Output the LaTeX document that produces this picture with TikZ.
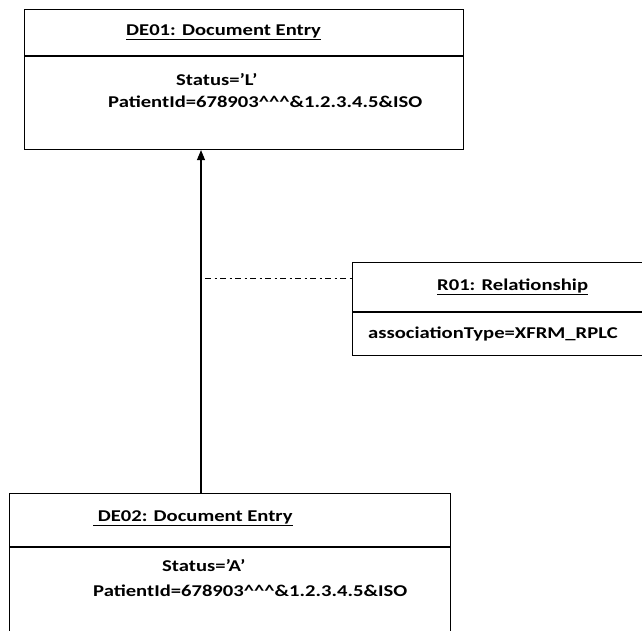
\documentclass[tikz,border=0pt]{standalone}
\usepackage{fontspec}
\setmainfont{Carlito}
\newfontfamily\boxfont[FakeStretch=1.25]{Carlito}
\usetikzlibrary{positioning,arrows.meta}
\tikzset{
  entry/.style={draw, line width=1.1pt, inner sep=0pt, anchor=north west},
  txt/.style={font=\boxfont\fontsize{16.5}{19}\selectfont\bfseries, inner sep=0pt, anchor=west},
  divider/.style={line width=1.1pt},
  link/.style={line width=0.9pt, dash pattern=on 6pt off 3.5pt on 2pt off 3.5pt}
}

\begin{document}
\begin{tikzpicture}[x=1pt, y=-1pt]
\useasboundingbox (0,0) rectangle (642,631);
\clip (0,0) rectangle (642,631);

% the three boxes
\node[entry, minimum width=439pt, minimum height=140pt] (de01) at (24,9) {};
\node[entry, minimum width=300pt, minimum height=93pt] (r01) at (352,262) {};
\node[entry, minimum width=441pt, minimum height=180pt] (de02) at (9,493) {};

\draw[divider] (de01.west |- 0,56) -- (de01.east |- 0,56);
\draw[divider] (r01.west |- 0,312) -- (r01.east |- 0,312);
\draw[divider] (de02.west |- 0,547) -- (de02.east |- 0,547);

% texts
\node[txt] (de01-title) at (126,32) {\underline{DE01: Document Entry}};
\node[txt] (de01-status) at (176,80) {Status=’L’};
\node[txt] (de01-pid) at (108,102) {PatientId=678903\textasciicircum\textasciicircum\textasciicircum\&1.2.3.4.5\&ISO};

\node[txt] (r01-title) at (437,287) {\underline{R01: Relationship}};
\node[txt] (r01-type) at (368,334) {associationType=XFRM\_RPLC};

\node[txt] (de02-title) at (93,518) {\underline{ DE02: Document Entry}};
\node[txt] (de02-status) at (162,566) {Status=’A’};
\node[txt] (de02-pid) at (93,591) {PatientId=678903\textasciicircum\textasciicircum\textasciicircum\&1.2.3.4.5\&ISO};

% connectors
\coordinate (arrx) at (201,0);
\coordinate (rel) at (205,278);
\draw[line width=1.1pt, -{Triangle[length=10pt,width=8pt]}] (arrx |- de02.north) -- (arrx |- de01.south);
\draw[link] (rel) -- (rel -| r01.west);
\end{tikzpicture}
\end{document}
